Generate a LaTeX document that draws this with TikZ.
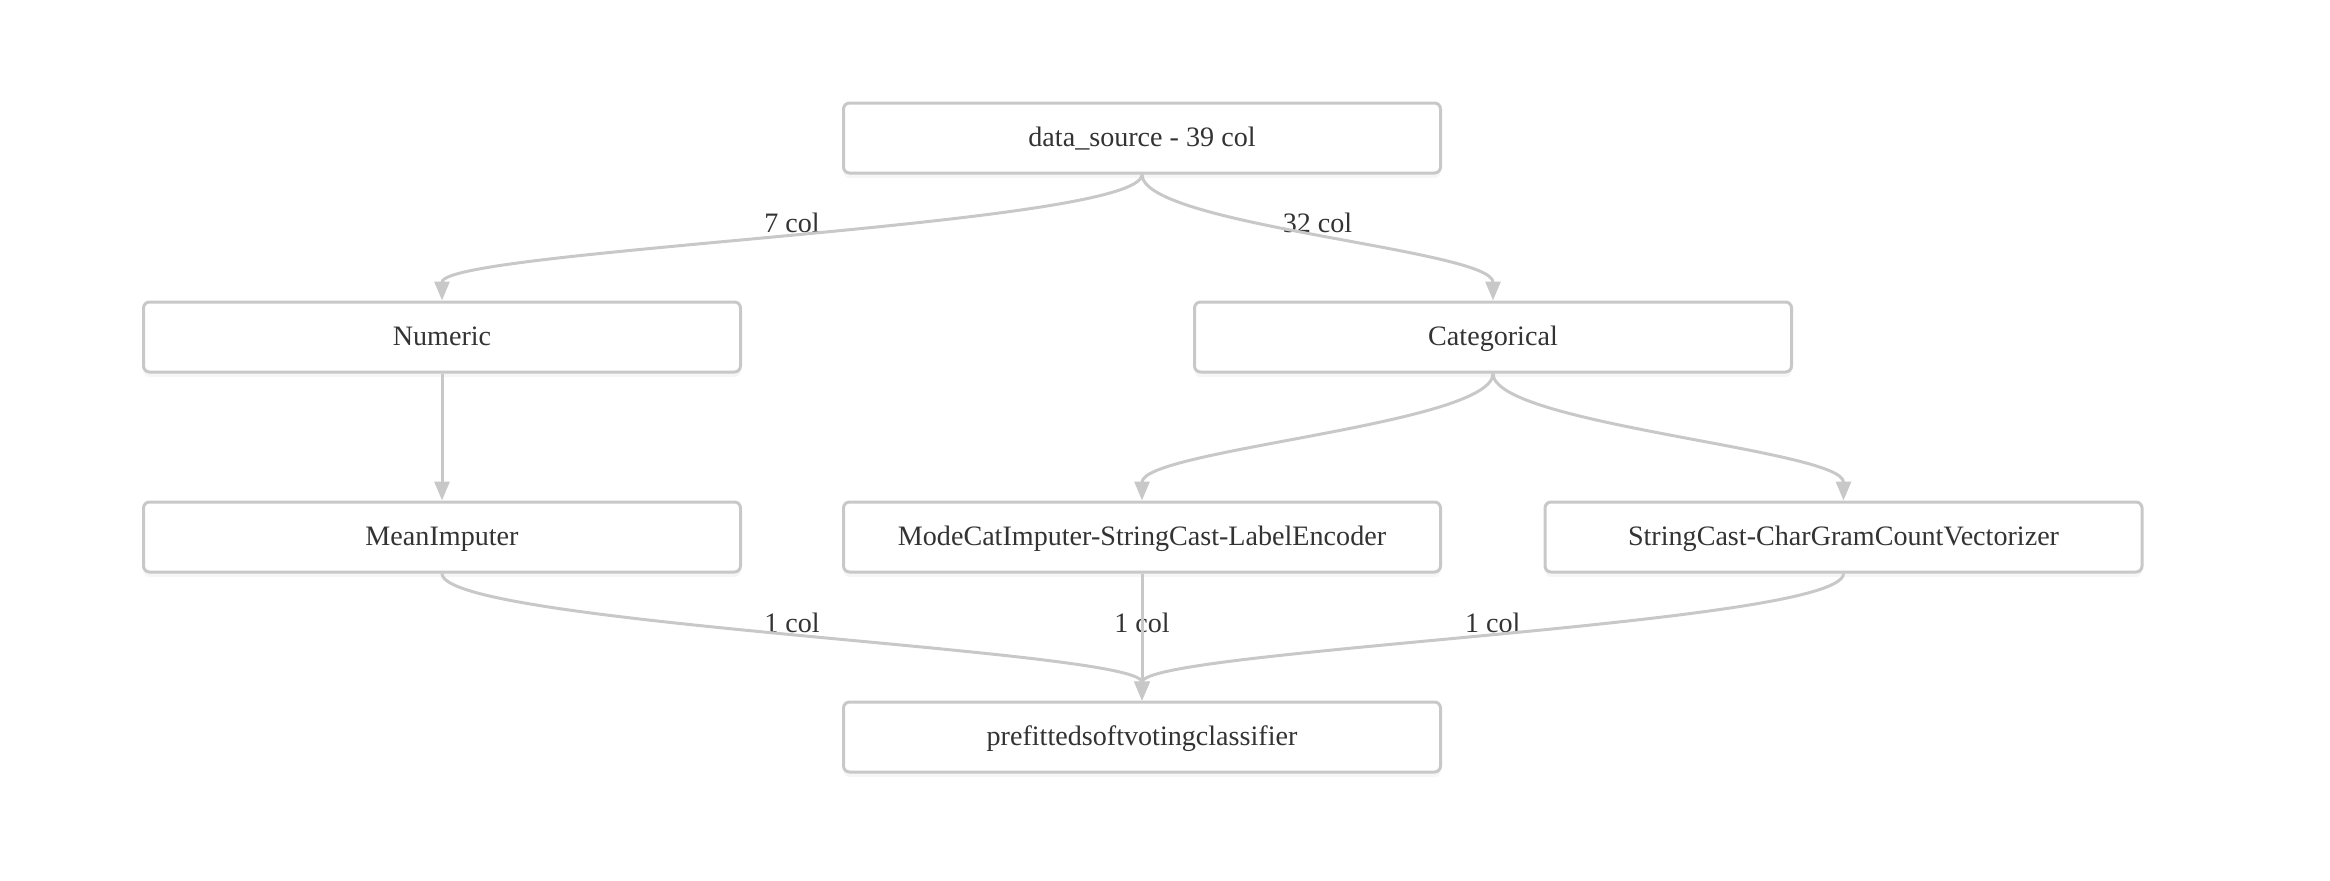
\documentclass[tikz,border=0pt]{standalone}
\usepackage{fontspec}
\setmainfont{Liberation Serif}
\usepackage{tikz}
\usetikzlibrary{arrows.meta,positioning,shadows}
\usepackage{xcolor}
\definecolor{boxgray}{RGB}{200, 200, 200}
\definecolor{labelgray}{RGB}{51, 51, 51}

\begin{document}
\begin{tikzpicture}[
    block/.style={rectangle, draw=boxgray, line width=0.3mm, rounded corners=0.6mm, fill=white, minimum width=5.97cm, minimum height=0.7cm, text height=0.7em, text depth=0.2em, inner sep=0pt, align=center, font=\fontsize{8}{10}\selectfont, text=labelgray, drop shadow={shadow xshift=0mm, shadow yshift=-0.5mm, opacity=0.07}},
    lbl/.style={anchor=base, yshift=0.5mm, inner sep=0pt, behind path, font=\fontsize{8}{10}\selectfont, text=labelgray},
    link/.style={draw=boxgray, line width=0.3mm, -{Triangle[length=1.9mm, width=1.5mm]}},
    curvy/.style={out=-90, in=90, distance=5.1mm},
]
    \useasboundingbox (0, 0) rectangle (23.3, -8.8);

    % Source
    \node[block] (src) at (11.42, -1.38) {data\_source - 39 col};

    % Column groups
    \node[block] (num) at (4.42, -3.37) {Numeric};
    \node[block] (cat) at (14.93, -3.37) {Categorical};

    % Transformers
    \node[block] (mean) at (4.42, -5.37) {MeanImputer};
    \node[block] (mode) at (11.42, -5.37) {ModeCatImputer-StringCast-LabelEncoder};
    \node[block] (strv) at (18.435, -5.37) {StringCast-CharGramCountVectorizer};

    % Estimator
    \node[block] (clf) at (11.42, -7.37) {prefittedsoftvotingclassifier};

    \draw[link] (src.south) to[curvy] node[lbl] (l7) {7 col} (num.north);
    \draw[link] (src.south) to[curvy] node[lbl] (l32) {32 col} (cat.north);
    \draw[link] (num) -- (mean);
    \draw[link] (cat.south) to[curvy] (mode.north);
    \draw[link] (cat.south) to[curvy] (strv.north);

    \draw[link] (mean.south) to[curvy] node[lbl] (lmean) {1 col} (clf.north);
    \draw[link] (mode) -- node[lbl] (lmode) {1 col} (clf);
    \draw[link] (strv.south) to[curvy] node[lbl] (lstr) {1 col} (clf.north);

\end{tikzpicture}
\end{document}
